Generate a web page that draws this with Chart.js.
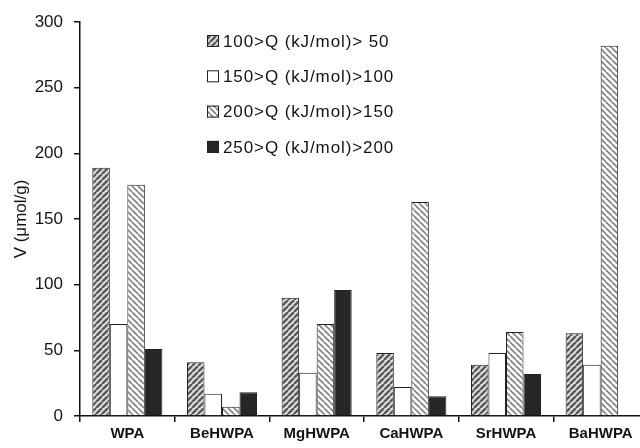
<!DOCTYPE html>
<html>
<head>
<meta charset="utf-8">
<script src="https://cdn.jsdelivr.net/npm/chart.js@4/dist/chart.umd.min.js"></script>
<style>
  html, body { margin: 0; padding: 0; background: #fff; overflow: hidden; }
  #wrap { width: 660px; height: 448px; position: relative; }
</style>
</head>
<body>
<div id="wrap"><canvas id="grafico"></canvas></div>
<script>
// datos
const categorias = ['WPA', 'BeHWPA', 'MgHWPA', 'CaHWPA', 'SrHWPA', 'BaHWPA'];
const etiquetas = ['100>Q (kJ/mol)> 50', '150>Q (kJ/mol)>100', '200>Q (kJ/mol)>150', '250>Q (kJ/mol)>200'];
const q50_100 = [189, 41, 90, 48, 39, 63];
const q100_150 = [70, 17, 33, 22, 48, 39];
const q150_200 = [176, 7, 70, 163, 64, 282];
const q200_250 = [51, 18, 96, 15, 32, null];
const ticksY = [0, 50, 100, 150, 200, 250, 300];

const fuente = '"Liberation Sans", Arial, sans-serif';

function rayado(fondo, linea, grosor, sentido) {
    const c = document.createElement('canvas');
    c.width = 6; c.height = 6;
    const g = c.getContext('2d');
    g.fillStyle = fondo;
    g.fillRect(0, 0, 6, 6);
    g.strokeStyle = linea;
    g.lineWidth = grosor;
    g.beginPath();
    for (let k = -6; k <= 12; k += 6) {
        if (sentido === '/') { g.moveTo(k, 6); g.lineTo(k + 6, 0); }
        else { g.moveTo(k, 0); g.lineTo(k + 6, 6); }
    }
    g.stroke();
    return g.createPattern(c, 'repeat');
}

const ctx = document.getElementById('grafico');
const p1 = rayado('#e0e0e0', '#5a5a5a', 2.4, '/');
const p3 = rayado('#ffffff', '#808080', 1.6, '\\');
const rellenos = [p1, '#ffffff', p3, '#262626'];

const leyenda = {
    id: 'leyenda',
    afterDraw(chart) {
        const g = chart.ctx;
        g.save();
        g.font = '17px ' + fuente;
        g.letterSpacing = '0.9px';
        g.textBaseline = 'middle';
        etiquetas.forEach((txt, i) => {
            const y = 41 + i * 35.3;
            g.fillStyle = rellenos[i];
            g.fillRect(207, y - 6, 12, 12);
            g.strokeStyle = '#222';
            g.lineWidth = 1;
            g.strokeRect(207.5, y - 5.5, 11, 11);
            g.fillStyle = '#141414';
            g.fillText(txt, 223, y + 1);
        });
        g.restore();
    }
};

new Chart(ctx, {
    type: 'bar',
    data: {
        labels: categorias,
        datasets: [
            { label: etiquetas[0], data: q50_100, backgroundColor: p1 },
            { label: etiquetas[1], data: q100_150, backgroundColor: '#ffffff' },
            { label: etiquetas[2], data: q150_200, backgroundColor: p3 },
            { label: etiquetas[3], data: q200_250, backgroundColor: '#262626' }
        ].map(d => Object.assign(d, { borderColor: '#222', borderWidth: 1, categoryPercentage: 0.74, barPercentage: 1 }))
    },
    options: {
        responsive: true,
        maintainAspectRatio: false,
        animation: false,
        layout: { padding: { top: 22, right: 12, left: 0, bottom: 0 } },
        plugins: { legend: { display: false }, tooltip: { enabled: false } },
        scales: {
            x: {
                offset: true,
                grid: { offset: true, drawOnChartArea: false, drawTicks: true, tickLength: 6, color: '#111', lineWidth: 1.5 },
                border: { color: '#111', width: 1.5 },
                ticks: { color: '#141414', font: { family: fuente, size: 15, weight: 'bold' }, padding: 3, maxRotation: 0 },
                afterFit: s => { s.height = 32; }
            },
            y: {
                min: 0, max: 300,
                afterBuildTicks: s => { s.ticks = ticksY.map(v => ({ value: v })); },
                grid: { drawOnChartArea: false, drawTicks: true, tickLength: 6, color: '#111', lineWidth: 1.5 },
                border: { color: '#111', width: 1.5 },
                ticks: { color: '#141414', font: { family: fuente, size: 17 }, padding: 11 },
                title: { display: true, text: 'V (μmol/g)', color: '#141414', font: { family: fuente, size: 17 }, padding: { top: 11, bottom: 0 } },
                afterFit: s => { s.width = 80; }
            }
        }
    },
    plugins: [leyenda]
});
</script>
</body>
</html>
